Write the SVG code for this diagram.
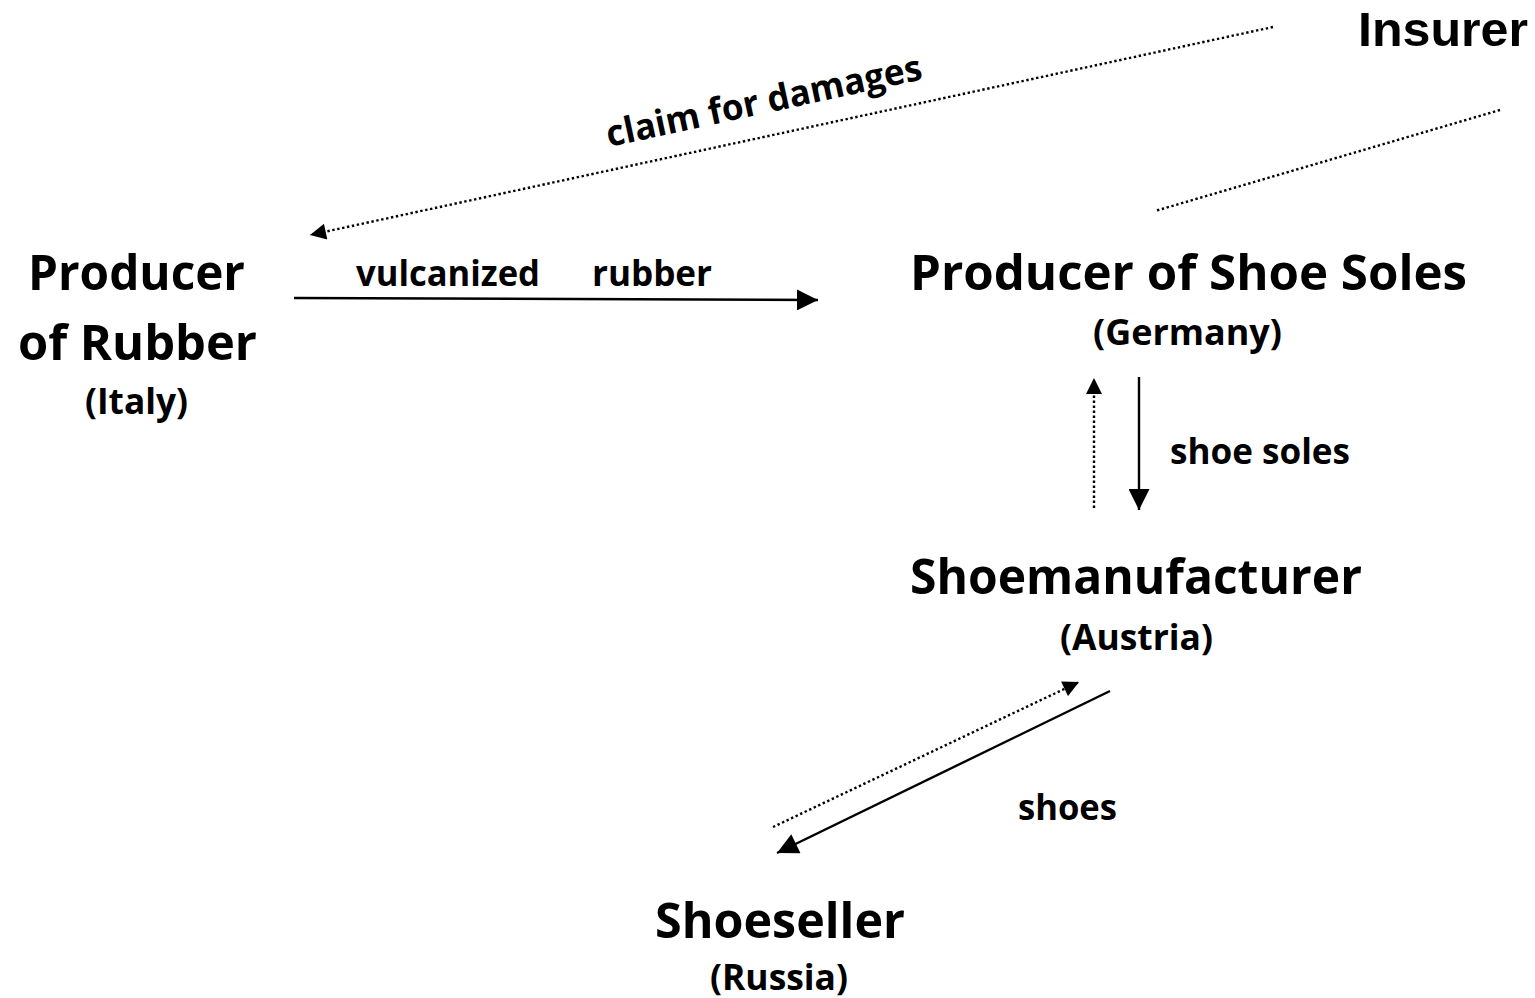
<svg xmlns="http://www.w3.org/2000/svg" width="1535" height="998" viewBox="0 0 1535 998">
<style>
text{font-family:"Open Sans",Lato,"Liberation Sans",sans-serif;font-weight:bold;fill:#000}
.big{font-size:49px}
.top{font-family:"Liberation Sans",Arial,sans-serif}
.small{font-size:35px}
.lbl{font-size:36px}
.solid{stroke:#000;stroke-width:2.4;fill:none}
.dot{stroke:#000;stroke-width:2.4;fill:none;stroke-dasharray:2.4 2.6}
</style>
<defs>
<marker id="ah" viewBox="0 0 10 10" refX="10" refY="5" markerUnits="userSpaceOnUse" markerWidth="23" markerHeight="21" orient="auto">
<path d="M0,0 L10,5 L0,10 Z" fill="#000"/>
</marker>
<marker id="ahs" viewBox="0 0 10 10" refX="10" refY="5" markerUnits="userSpaceOnUse" markerWidth="17" markerHeight="16" orient="auto">
<path d="M0,0 L10,5 L0,10 Z" fill="#000"/>
</marker>
</defs>
<g id="connectors">
<line class="dot" x1="1273" y1="27" x2="310" y2="235" marker-end="url(#ahs)"/>
<line class="dot" x1="1500" y1="110" x2="1155" y2="211"/>
<line class="solid" x1="294" y1="298" x2="818" y2="300" marker-end="url(#ah)"/>
<line class="dot" x1="1094" y1="508" x2="1094" y2="378" marker-end="url(#ahs)"/>
<line class="solid" x1="1139" y1="377" x2="1139" y2="510" marker-end="url(#ah)"/>
<line class="dot" x1="773" y1="827" x2="1079" y2="682" marker-end="url(#ahs)"/>
<line class="solid" x1="1110" y1="691" x2="777" y2="853" marker-end="url(#ah)"/>
</g>
<g id="labels">
<text class="lbl" x="356" y="286" textLength="184" lengthAdjust="spacingAndGlyphs">vulcanized</text>
<text class="lbl" x="592" y="286" textLength="120" lengthAdjust="spacingAndGlyphs">rubber</text>
<text class="lbl" x="1170" y="464" textLength="180" lengthAdjust="spacingAndGlyphs">shoe soles</text>
<text class="lbl" x="1018" y="820" textLength="99" lengthAdjust="spacingAndGlyphs">shoes</text>
<text class="lbl" transform="translate(609,147) rotate(-12.2)" textLength="322" lengthAdjust="spacingAndGlyphs">claim for damages</text>
</g>
<g id="insurer">
<text class="big top" x="1358" y="46" textLength="170" lengthAdjust="spacingAndGlyphs">Insurer</text>
</g>
<g id="rubber-producer">
<text class="big" x="28" y="290" textLength="217" lengthAdjust="spacingAndGlyphs">Producer</text>
<text class="big" x="18" y="360" textLength="239" lengthAdjust="spacingAndGlyphs">of Rubber</text>
<text class="small" x="85" y="414" textLength="103" lengthAdjust="spacingAndGlyphs">(Italy)</text>
</g>
<g id="sole-producer">
<text class="big" x="910" y="290" textLength="557" lengthAdjust="spacingAndGlyphs">Producer of Shoe Soles</text>
<text class="small" x="1093" y="345" textLength="189" lengthAdjust="spacingAndGlyphs">(Germany)</text>
</g>
<g id="shoemanufacturer">
<text class="big" x="910" y="594" textLength="452" lengthAdjust="spacingAndGlyphs">Shoemanufacturer</text>
<text class="small" x="1060" y="650" textLength="153" lengthAdjust="spacingAndGlyphs">(Austria)</text>
</g>
<g id="shoeseller">
<text class="big" x="655" y="938" textLength="250" lengthAdjust="spacingAndGlyphs">Shoeseller</text>
<text class="small" x="710" y="990" textLength="138" lengthAdjust="spacingAndGlyphs">(Russia)</text>
</g>
</svg>
